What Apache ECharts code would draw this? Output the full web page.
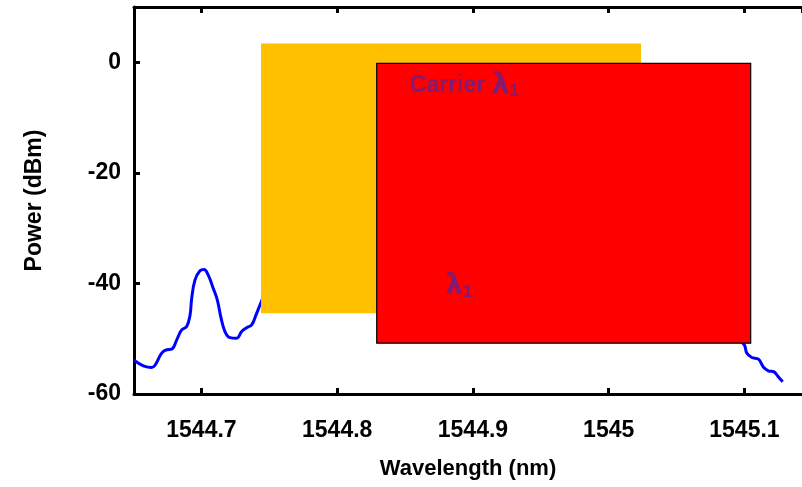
<!DOCTYPE html>
<html>
<head>
<meta charset="utf-8">
<script src="https://cdn.jsdelivr.net/npm/echarts@6/dist/echarts.min.js"></script>
<style>html,body{margin:0;padding:0;background:#fff}#c{width:802px;height:487px}</style>
</head>
<body>
<div id="c"></div>
<script>
// Spectrum (wavelength in nm, power in dBm); middle part is hidden behind the boxes
const wavelength = [1544.6503, 1544.6572, 1544.6633, 1544.6658, 1544.6707, 1544.6744, 1544.6781, 1544.6818, 1544.6854, 1544.6891, 1544.6916, 1544.6928, 1544.6952, 1544.6989, 1544.7019, 1544.7050, 1544.7087, 1544.7117, 1544.7142, 1544.7173, 1544.7210, 1544.7260, 1544.7296, 1544.7333, 1544.7370, 1544.7402, 1544.7431,
  1544.750, 1544.760, 1544.770, 1544.780, 1544.790, 1544.800, 1544.810, 1544.820, 1544.830, 1544.840, 1544.850, 1544.860, 1544.870, 1544.880, 1544.890, 1544.900, 1544.920, 1544.940, 1544.960, 1544.980, 1545.000, 1545.020, 1545.040, 1545.060, 1545.080, 1545.093,
  1545.0999, 1545.1017, 1545.1054, 1545.1103, 1545.1139, 1545.1176, 1545.1218, 1545.1249, 1545.1282];
const power = [-53.9, -54.9, -55.2, -54.8, -52.6, -52.0, -51.9, -50.2, -48.4, -47.8, -45.7, -42.7, -39.4, -37.7, -37.5, -38.5, -40.9, -43.0, -46.0, -48.7, -49.8, -49.9, -48.7, -48.0, -47.5, -45.7, -43.9,
  -40, -36, -31, -27, -32, -38, -30, -18, -8, -4, -3, -3, -6, -18, -30, -36, -30, -37, -42, -39, -44, -41, -45, -47, -48, -49.5,
  -51.1, -52.6, -53.4, -53.7, -55.1, -55.8, -56.0, -56.9, -57.8];

// Overlay boxes in data coordinates: [x0, x1, y0, y1]
const orangeBox = [1544.7439, 1545.0238, -45.4, 3.4];
const redBox = [1544.8291, 1545.1046, -50.8, -0.2];

// Annotation labels
const labelTexts = ['{t|Carrier }{l|λ}{s|1}', '{l|λ}{s|1}'];
const labelX = [1544.8535, 1544.8795];
const labelY = [-4.3, -40.6];

// Axis settings (the visible window ends at the right edge of the image)
const xMin = 1544.6503, xMax = 1545.1424;
const yMin = -60, yMax = 10, yStep = 20;

const FONT = 'Liberation Sans, Arial, sans-serif';
const boxColors = ['#FFC000', '#FF0000'];
const labelColor = '#642290';

const chart = echarts.init(document.getElementById('c'), null, {renderer: 'canvas'});

const axisLineStyle = {color: '#000', width: 3};
const tickStyle = {show: true, inside: true, length: 6, lineStyle: {color: '#000', width: 3}};

chart.setOption({
  animation: false,
  backgroundColor: '#fff',
  grid: {left: 134, right: 0, top: 7, bottom: 93, containLabel: false},
  xAxis: [{
    type: 'value', position: 'bottom', min: xMin, max: xMax, splitNumber: 5,
    axisLine: {show: true, onZero: false, lineStyle: axisLineStyle},
    axisTick: tickStyle,
    splitLine: {show: false},
    axisLabel: {
      show: true, showMinLabel: false, showMaxLabel: false, margin: 25,
      fontSize: 23, fontWeight: 'bold', fontFamily: FONT, color: '#000',
      formatter: v => String(Math.round(v * 10) / 10)
    },
    name: 'Wavelength (nm)', nameLocation: 'middle', nameGap: 64,
    nameTextStyle: {fontSize: 22, fontWeight: 'bold', fontFamily: FONT, color: '#000'}
  }, {
    type: 'value', position: 'top', min: xMin, max: xMax, splitNumber: 5,
    axisLine: {show: true, onZero: false, lineStyle: axisLineStyle},
    axisTick: tickStyle,
    splitLine: {show: false},
    axisLabel: {show: false}
  }],
  yAxis: {
    type: 'value', min: yMin, max: yMax, interval: yStep,
    axisLine: {show: true, onZero: false, lineStyle: axisLineStyle},
    axisTick: tickStyle,
    splitLine: {show: false},
    axisLabel: {
      show: true, showMaxLabel: false, margin: 13,
      fontSize: 23, fontWeight: 'bold', fontFamily: FONT, color: '#000'
    },
    name: 'Power (dBm)', nameLocation: 'middle', nameGap: 88, nameRotate: 90,
    nameTextStyle: {fontSize: 23, fontWeight: 'bold', fontFamily: FONT, color: '#000'}
  },
  series: [{
    type: 'line', z: 2,
    data: wavelength.map((w, i) => [w, power[i]]),
    showSymbol: false, smooth: 0.4,
    lineStyle: {color: '#0000FF', width: 3},
    clip: true
  }, {
    type: 'custom', z: 3,
    data: [orangeBox, redBox],
    encode: {x: [0, 1], y: [2, 3]},
    renderItem: function (params, api) {
      const p0 = api.coord([api.value(0), api.value(3)]);
      const p1 = api.coord([api.value(1), api.value(2)]);
      const isRed = params.dataIndex === 1;
      return {
        type: 'rect',
        shape: {x: p0[0], y: p0[1], width: p1[0] - p0[0], height: p1[1] - p0[1]},
        style: {fill: boxColors[params.dataIndex], stroke: isRed ? '#000' : null, lineWidth: isRed ? 1.2 : 0}
      };
    }
  }, {
    type: 'scatter', z: 4,
    symbolSize: 0,
    itemStyle: {color: labelColor},
    data: labelX.map((x, i) => ({value: [x, labelY[i]], name: labelTexts[i]})),
    label: {
      show: true, position: [0, 0], align: 'left', verticalAlign: 'middle',
      formatter: p => p.name,
      textBorderWidth: 0, textShadowBlur: 0,
      color: labelColor,
      rich: {
        t: {fontSize: 23, fontWeight: 'bold', fontFamily: FONT, color: labelColor, textBorderWidth: 0},
        l: {fontSize: 28, fontWeight: 'bold', fontFamily: 'DejaVu Sans, sans-serif', color: labelColor, textBorderWidth: 0},
        s: {fontSize: 17, fontWeight: 'bold', fontFamily: FONT, color: labelColor, textBorderWidth: 0, verticalAlign: 'bottom', padding: [11, 0, 0, 0]}
      }
    }
  }]
});
</script>
</body>
</html>
